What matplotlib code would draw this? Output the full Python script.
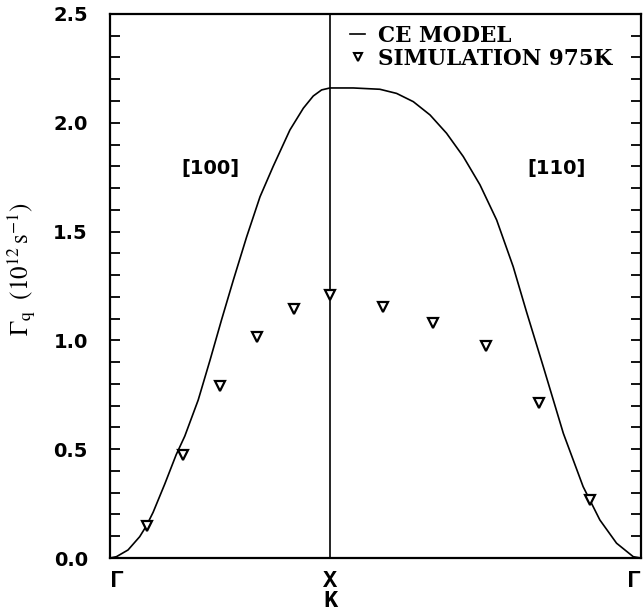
import matplotlib
matplotlib.use("Agg")
import matplotlib.pyplot as plt
from matplotlib.lines import Line2D
from matplotlib.ticker import MultipleLocator

plt.rcParams['mathtext.fontset'] = 'stix'

# CE model curve (x: Gamma=0, X=1, Gamma=1+sqrt2)
ce_x_100 = [0, 0.029, 0.082, 0.135, 0.165, 0.196, 0.249, 0.301, 0.340, 0.401,
            0.455, 0.507, 0.561, 0.621, 0.682, 0.742, 0.818, 0.879, 0.924, 0.962, 1.0]
ce_y_100 = [0, 0.006, 0.037, 0.098, 0.147, 0.210, 0.340, 0.475, 0.560, 0.726,
            0.910, 1.094, 1.278, 1.475, 1.660, 1.800, 1.967, 2.067, 2.123, 2.151, 2.160]
ce_x_110 = [1.0, 1.106, 1.227, 1.303, 1.379, 1.455, 1.530, 1.606, 1.682, 1.758,
            1.833, 1.894, 1.970, 2.061, 2.151, 2.227, 2.303, 2.379, 2.414]
ce_y_110 = [2.160, 2.160, 2.154, 2.135, 2.097, 2.036, 1.952, 1.845, 1.715, 1.553,
            1.339, 1.130, 0.879, 0.573, 0.328, 0.175, 0.068, 0.006, 0]

# simulation 975K
sim_x = [0.167, 0.333, 0.5, 0.667, 0.835, 1.0, 1.24, 1.47, 1.71, 1.95, 2.18]
sim_y = [0.147, 0.473, 0.792, 1.017, 1.143, 1.209, 1.155, 1.081, 0.974, 0.711, 0.267]

xtick_pos = [0, 1, 2.414]
xtick_lab = ['Γ', 'X\nK', 'Γ']
ytick_pos = [0.0, 0.5, 1.0, 1.5, 2.0, 2.5]

fig = plt.figure(figsize=(6.44, 6.13), dpi=100)
ax = fig.add_axes([0.1708, 0.0897, 0.8245, 0.8875])

ax.plot(ce_x_100 + ce_x_110[1:], ce_y_100 + ce_y_110[1:], color='black', lw=1.2)
ax.axvline(1.0, color='black', lw=1.2)
ax.plot(sim_x, sim_y, linestyle='none', marker='v', ms=7.5, mfc='white',
        mec='black', mew=1.6)

ax.set_xlim(0, 2.414)
ax.set_ylim(0, 2.5)

ax.set_xticks(xtick_pos)
ax.set_xticklabels(xtick_lab, family='Liberation Mono', weight='bold',
                   fontsize=17, linespacing=0.85)
ax.tick_params(axis='x', length=0, pad=8)
xl = ax.get_xticklabels()
xl[0].set_ha('left')
xl[2].set_ha('right')

ax.set_yticks(ytick_pos)
ax.set_yticklabels(['%.1f' % v for v in ytick_pos])
ax.yaxis.set_minor_locator(MultipleLocator(0.1))
ax.tick_params(axis='y', which='both', direction='in', length=7.5, width=1.3,
               right=True, labelsize=14, pad=16)
for lab in ax.get_yticklabels():
    lab.set_fontweight('bold')

for s in ax.spines.values():
    s.set_linewidth(1.6)

ax.set_ylabel(r'$\Gamma_{\mathrm{q}}\ \ (10^{12}\,\mathrm{s}^{-1})$', fontsize=18)
ax.yaxis.set_label_coords(-0.135, 0.53)

ax.text(0.455, 1.79, '[100]', ha='center', va='center', fontsize=14,
        family='DejaVu Sans', weight='bold')
ax.text(2.03, 1.79, '[110]', ha='center', va='center', fontsize=14,
        family='DejaVu Sans', weight='bold')

handles = [Line2D([], [], color='black', lw=1.2),
           Line2D([], [], linestyle='none', marker='v', ms=6, mfc='white',
                  mec='black', mew=1.5)]
ax.legend(handles, ['CE MODEL', 'SIMULATION 975K'], loc='upper right',
          bbox_to_anchor=(0.963, 0.996), frameon=False, handlelength=0.7,
          handletextpad=0.6, labelspacing=0.05, borderaxespad=0,
          prop={'family': 'DejaVu Serif', 'weight': 'bold', 'size': 15.5})

fig.savefig('out.png', dpi=100)
